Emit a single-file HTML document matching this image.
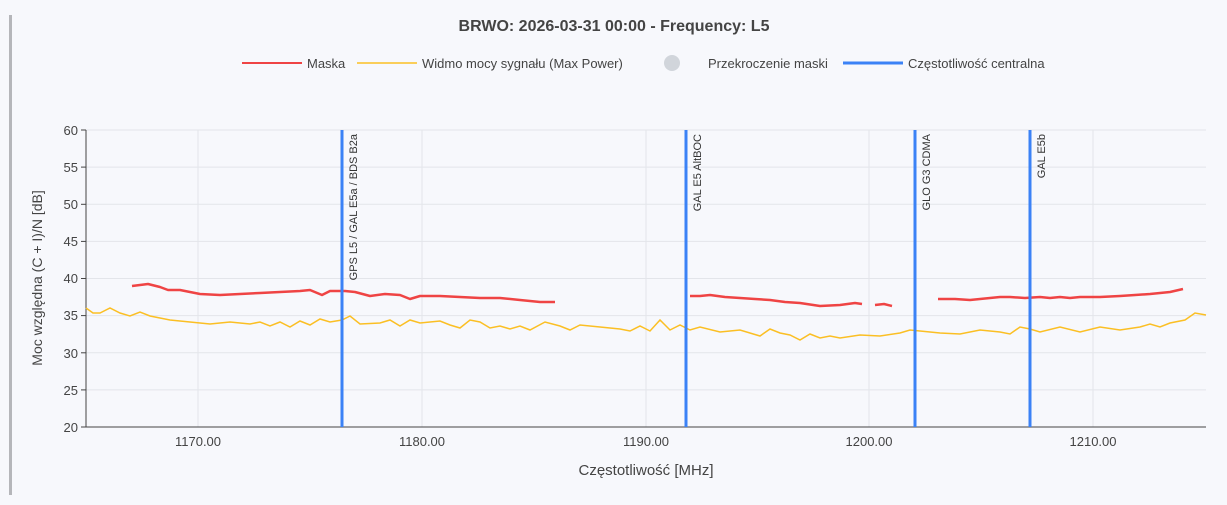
<!DOCTYPE html>
<html><head><meta charset="utf-8"><style>
html,body{margin:0;padding:0;background:#f7f8fc;}
svg{display:block;font-family:"Liberation Sans",sans-serif;}
</style></head><body>
<svg width="1227" height="505" viewBox="0 0 1227 505">
<rect width="1227" height="505" fill="#f7f8fc"/>
<rect x="9" y="15" width="3" height="480" fill="#b5b6ba"/>
<text x="614" y="31" text-anchor="middle" font-size="16" font-weight="bold" fill="#444">BRWO: 2026-03-31 00:00 - Frequency: L5</text>
<!-- legend -->
<line x1="242" y1="63" x2="302" y2="63" stroke="#ef4444" stroke-width="2"/>
<text x="307" y="68" font-size="13" fill="#444">Maska</text>
<line x1="357" y1="63" x2="417" y2="63" stroke="#fbbf24" stroke-width="1.5"/>
<text x="422" y="68" font-size="13" fill="#444">Widmo mocy sygnału (Max Power)</text>
<circle cx="672" cy="63" r="8" fill="#d1d5db"/>
<text x="708" y="68" font-size="13" fill="#444">Przekroczenie maski</text>
<line x1="843" y1="63" x2="903" y2="63" stroke="#3b82f6" stroke-width="3"/>
<text x="908" y="68" font-size="13" fill="#444">Częstotliwość centralna</text>
<!-- grid -->
<g stroke="#e3e5ea" stroke-width="1">
<line x1="86" y1="167.1" x2="1206" y2="167.1"/><line x1="86" y1="204.3" x2="1206" y2="204.3"/>
<line x1="86" y1="241.4" x2="1206" y2="241.4"/><line x1="86" y1="278.5" x2="1206" y2="278.5"/>
<line x1="86" y1="315.6" x2="1206" y2="315.6"/><line x1="86" y1="352.8" x2="1206" y2="352.8"/>
<line x1="86" y1="389.9" x2="1206" y2="389.9"/><line x1="86" y1="130" x2="1206" y2="130"/>
<line x1="198" y1="130" x2="198" y2="427"/><line x1="422" y1="130" x2="422" y2="427"/>
<line x1="646" y1="130" x2="646" y2="427"/><line x1="869" y1="130" x2="869" y2="427"/>
<line x1="1093" y1="130" x2="1093" y2="427"/>
</g>
<line x1="86" y1="427" x2="1206" y2="427" stroke="#444" stroke-width="1"/>
<line x1="86" y1="130" x2="86" y2="427" stroke="#444" stroke-width="1"/>
<g stroke="#444"><line x1="81" y1="130" x2="86" y2="130"/><line x1="81" y1="167.1" x2="86" y2="167.1"/><line x1="81" y1="204.3" x2="86" y2="204.3"/><line x1="81" y1="241.4" x2="86" y2="241.4"/><line x1="81" y1="278.5" x2="86" y2="278.5"/><line x1="81" y1="315.6" x2="86" y2="315.6"/><line x1="81" y1="352.8" x2="86" y2="352.8"/><line x1="81" y1="389.9" x2="86" y2="389.9"/><line x1="81" y1="427" x2="86" y2="427"/></g>
<g font-size="13" fill="#444" text-anchor="end">
<text x="78" y="135">60</text><text x="78" y="172">55</text><text x="78" y="209">50</text><text x="78" y="246">45</text><text x="78" y="283">40</text><text x="78" y="320">35</text><text x="78" y="358">30</text><text x="78" y="395">25</text><text x="78" y="432">20</text>
</g>
<g font-size="13" fill="#444" text-anchor="middle">
<text x="198" y="446">1170.00</text><text x="422" y="446">1180.00</text><text x="646" y="446">1190.00</text><text x="869" y="446">1200.00</text><text x="1093" y="446">1210.00</text>
</g>
<text x="646" y="475" text-anchor="middle" font-size="15" fill="#444">Częstotliwość [MHz]</text>
<text transform="translate(42,278) rotate(-90)" text-anchor="middle" font-size="14" fill="#444">Moc względna (C + I)/N [dB]</text>
<!-- yellow -->
<polyline fill="none" stroke="#fbbf24" stroke-width="1.5" points="86,308 93,313 100,313 110,308 120,313 130,316 140,312 150,316 160,318 170,320 190,322 210,324 230,322 250,324 260,322 270,326 280,322 290,327 300,321 310,325 320,319 330,322 342,320 350,316 360,324 380,323 390,320 400,326 410,320 420,323 440,321 450,325 460,328 470,320 480,322 490,328 500,326 510,329 520,326 530,330 545,322 560,326 570,330 580,325 600,327 620,329 630,331 640,326 650,331 660,320 670,330 680,325 690,330 700,327 720,332 740,330 760,336 770,329 780,333 790,335 800,340 810,334 820,338 830,336 840,338 860,335 880,336 900,333 910,330 920,331 940,333 960,334 980,330 1000,332 1010,334 1020,327 1030,329 1040,332 1060,327 1080,332 1100,327 1120,330 1140,327 1150,324 1160,327 1170,323 1185,320 1195,313 1206,315"/>
<!-- red -->
<g fill="none" stroke="#ef4444" stroke-width="2.5" stroke-linejoin="round">
<polyline points="132,286 148,284 160,287 168,290 180,290 200,294 220,295 240,294 260,293 280,292 300,291 310,290 322,295 330,291 345,291 355,292 370,296 385,294 400,295 410,299 420,296 440,296 460,297 480,298 500,298 520,300 540,302 555,302"/>
<polyline points="690,296 700,296 710,295 725,297 740,298 755,299 770,300 785,302 800,303 820,306 840,305 855,303 862,304"/>
<polyline points="875,305 884,304 892,306"/>
<polyline points="938,299 955,299 970,300 990,298 1000,297 1010,297 1025,298 1040,297 1050,298 1060,297 1070,298 1080,297 1100,297 1120,296 1135,295 1150,294 1160,293 1170,292 1183,289"/>
</g>
<!-- centre lines -->
<g stroke="#3b82f6" stroke-width="3">
<line x1="342" y1="130" x2="342" y2="427"/><line x1="686" y1="130" x2="686" y2="427"/>
<line x1="915" y1="130" x2="915" y2="427"/><line x1="1030" y1="130" x2="1030" y2="427"/>
</g>
<g font-size="11" fill="#333">
<text transform="translate(357,134) rotate(-90)" text-anchor="end">GPS L5 / GAL E5a / BDS B2a</text>
<text transform="translate(701,134) rotate(-90)" text-anchor="end">GAL E5 AltBOC</text>
<text transform="translate(930,134) rotate(-90)" text-anchor="end">GLO G3 CDMA</text>
<text transform="translate(1045,134) rotate(-90)" text-anchor="end">GAL E5b</text>
</g>
</svg>
</body></html>
